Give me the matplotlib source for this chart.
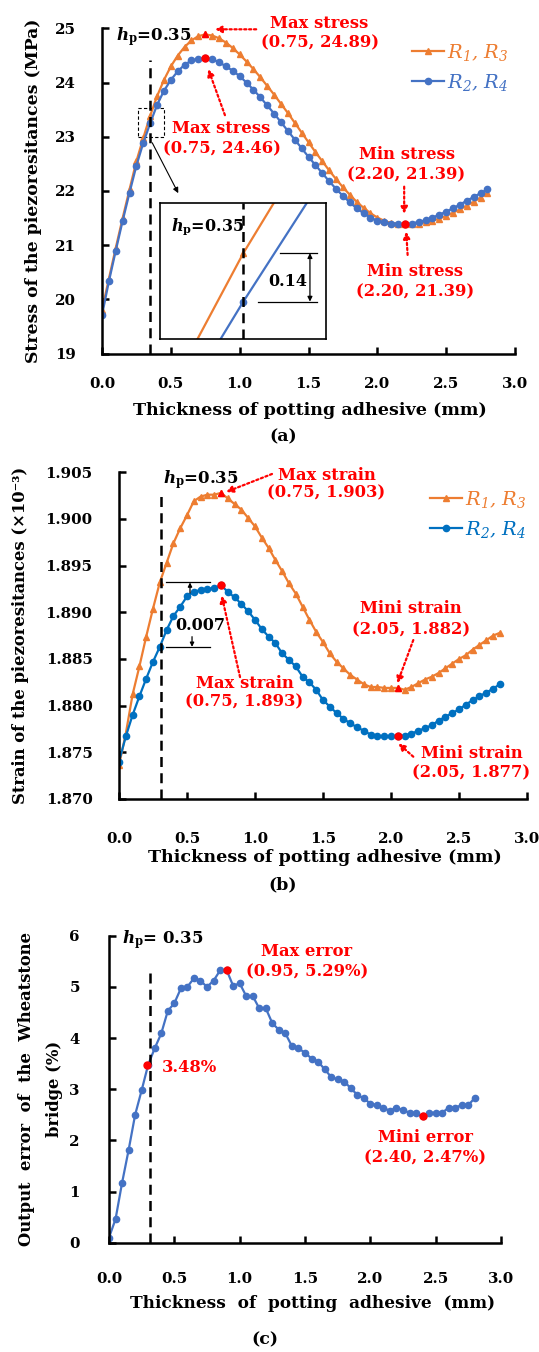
import matplotlib
matplotlib.use("Agg")
import matplotlib.pyplot as plt
from matplotlib.patches import Rectangle

plt.rcParams.update({
    "font.family": ["DejaVu Serif", "DejaVu Sans"],
    "font.weight": "bold",
    "mathtext.fontset": "custom",
    "mathtext.rm": "DejaVu Serif:bold",
    "mathtext.it": "DejaVu Serif:italic:bold",
    "mathtext.bf": "DejaVu Serif:bold",
    "mathtext.sf": "DejaVu Serif:italic:normal",
})

# ---------------- data ----------------
thickness = [0.00, 0.05, 0.10, 0.15, 0.20, 0.25, 0.30, 0.35, 0.40, 0.45,
             0.50, 0.55, 0.60, 0.65, 0.70, 0.75, 0.80, 0.85, 0.90, 0.95,
             1.00, 1.05, 1.10, 1.15, 1.20, 1.25, 1.30, 1.35, 1.40, 1.45,
             1.50, 1.55, 1.60, 1.65, 1.70, 1.75, 1.80, 1.85, 1.90, 1.95,
             2.00, 2.05, 2.10, 2.15, 2.20, 2.25, 2.30, 2.35, 2.40, 2.45,
             2.50, 2.55, 2.60, 2.65, 2.70, 2.75, 2.80]

stress_r13 = [19.80, 20.38, 20.95, 21.50, 22.03, 22.55, 22.98, 23.39, 23.75, 24.05,
              24.30, 24.50, 24.66, 24.78, 24.86, 24.89, 24.87, 24.82, 24.74, 24.64,
              24.52, 24.39, 24.25, 24.10, 23.94, 23.78, 23.61, 23.44, 23.26, 23.08,
              22.90, 22.72, 22.55, 22.38, 22.22, 22.07, 21.93, 21.80, 21.69, 21.59,
              21.51, 21.45, 21.41, 21.40, 21.39, 21.39, 21.40, 21.42, 21.45, 21.49,
              21.54, 21.60, 21.66, 21.73, 21.80, 21.88, 21.97]

stress_r24 = [19.71, 20.33, 20.90, 21.45, 21.97, 22.47, 22.89, 23.25, 23.59, 23.85,
              24.05, 24.21, 24.33, 24.41, 24.44, 24.46, 24.43, 24.38, 24.30, 24.22,
              24.12, 24.00, 23.87, 23.73, 23.58, 23.43, 23.27, 23.11, 22.95, 22.79,
              22.63, 22.48, 22.33, 22.18, 22.04, 21.91, 21.79, 21.68, 21.59, 21.51,
              21.45, 21.42, 21.40, 21.39, 21.39, 21.40, 21.43, 21.46, 21.51, 21.56,
              21.62, 21.68, 21.75, 21.82, 21.89, 21.96, 22.03]

strain_r13 = [1.8736, 1.8770, 1.8812, 1.8842, 1.8874, 1.8904, 1.8932, 1.8953, 1.8974, 1.8990,
              1.9004, 1.9019, 1.9024, 1.9026, 1.9026, 1.9028, 1.9022, 1.9016, 1.9010, 1.9001,
              1.8992, 1.8980, 1.8969, 1.8956, 1.8944, 1.8931, 1.8920, 1.8906, 1.8892, 1.8879,
              1.8868, 1.8856, 1.8847, 1.8840, 1.8833, 1.8828, 1.8823, 1.8820, 1.8820, 1.8819,
              1.8819, 1.8819, 1.8817, 1.8820, 1.8824, 1.8828, 1.8831, 1.8835, 1.8840, 1.8845,
              1.8850, 1.8854, 1.8860, 1.8865, 1.8870, 1.8875, 1.8878]

strain_r24 = [1.8740, 1.8767, 1.8790, 1.8810, 1.8829, 1.8847, 1.8863, 1.8881, 1.8896, 1.8906,
              1.8917, 1.8922, 1.8924, 1.8925, 1.8926, 1.8929, 1.8922, 1.8916, 1.8909, 1.8901,
              1.8892, 1.8882, 1.8874, 1.8867, 1.8856, 1.8849, 1.8842, 1.8831, 1.8825, 1.8817,
              1.8806, 1.8799, 1.8792, 1.8786, 1.8781, 1.8777, 1.8773, 1.8769, 1.8767, 1.8767,
              1.8767, 1.8767, 1.8768, 1.8770, 1.8773, 1.8776, 1.8779, 1.8784, 1.8788, 1.8792,
              1.8796, 1.8801, 1.8806, 1.8810, 1.8814, 1.8818, 1.8823]

bridge_error = [0.10, 0.46, 1.17, 1.81, 2.50, 2.98, 3.48, 3.80, 4.09, 4.53,
                4.68, 4.97, 5.00, 5.17, 5.12, 5.00, 5.12, 5.32, 5.33, 5.02,
                5.07, 4.82, 4.82, 4.58, 4.58, 4.29, 4.16, 4.09, 3.84, 3.80,
                3.71, 3.60, 3.54, 3.39, 3.24, 3.19, 3.15, 3.02, 2.89, 2.82,
                2.72, 2.69, 2.63, 2.58, 2.64, 2.59, 2.54, 2.53, 2.47, 2.54,
                2.54, 2.54, 2.64, 2.64, 2.69, 2.69, 2.83]

x_ticks = [0.0, 0.5, 1.0, 1.5, 2.0, 2.5, 3.0]
x_ticklabels = ["0.0", "0.5", "1.0", "1.5", "2.0", "2.5", "3.0"]
stress_ticks = [19, 20, 21, 22, 23, 24, 25]
strain_ticks = [1.870, 1.875, 1.880, 1.885, 1.890, 1.895, 1.900, 1.905]
strain_ticklabels = ["1.870", "1.875", "1.880", "1.885", "1.890", "1.895", "1.900", "1.905"]
error_ticks = [0, 1, 2, 3, 4, 5, 6]

legend_label_13 = r"$\mathsf{R_1}$, $\mathsf{R_3}$"
legend_label_24 = r"$\mathsf{R_2}$, $\mathsf{R_4}$"

# highlighted points
stress_max13 = (0.75, 24.89)
stress_max24 = (0.75, 24.46)
stress_min = (2.20, 21.39)
strain_max13 = (0.75, 1.9028)
strain_max24 = (0.75, 1.8929)
strain_min13 = (2.05, 1.8819)
strain_min24 = (2.05, 1.8767)
err_hp = (0.29, 3.48)
err_max = (0.90, 5.33)
err_min = (2.40, 2.47)

ORANGE = "#ED7D31"
BLUE_A = "#4472C4"
BLUE_B = "#0070C0"
RED = "#FF0000"

W, H = 539, 1352
fig = plt.figure(figsize=(W / 100, H / 100), dpi=100)


def px_axes(x0, y0, x1, y1):
    return fig.add_axes([x0 / W, 1 - y1 / H, (x1 - x0) / W, (y1 - y0) / H])


def style(ax, xpad, ypad):
    for s in ("top", "right"):
        ax.spines[s].set_visible(False)
    for s in ("left", "bottom"):
        ax.spines[s].set_linewidth(1.8)
    ax.tick_params(direction="in", length=5, width=1.8, labelsize=10.8)
    ax.tick_params(axis="x", pad=xpad)
    ax.tick_params(axis="y", pad=ypad)
    ax.set_xlim(0, 3.0)
    ax.set_xticks(x_ticks)
    ax.set_xticklabels(x_ticklabels)
    for lab in ax.get_xticklabels() + ax.get_yticklabels():
        lab.set_fontweight("bold")


def red_arrow(ax, tail, tip):
    ax.annotate("", xy=tip, xytext=tail,
                arrowprops=dict(arrowstyle="-|>", color=RED, lw=1.6,
                                linestyle=(0, (1, 1.2)), mutation_scale=10,
                                shrinkA=0, shrinkB=0), annotation_clip=False)


def red_text(ax, x, y, s, size=11.8):
    ax.text(x, y, s, color=RED, fontsize=size, fontweight="bold",
            ha="center", va="center", clip_on=False)


LEG_PROP = dict(family=["DejaVu Serif", "DejaVu Sans"], style="italic",
                weight="normal", size=14)


def make_legend(ax, handles, colors, right_px, top_px):
    leg = ax.legend(handles, [legend_label_13, legend_label_24], loc="upper right",
                    bbox_to_anchor=(right_px / W, 1 - top_px / H),
                    bbox_transform=fig.transFigure, frameon=False, prop=LEG_PROP,
                    numpoints=1, handlelength=1.65, handletextpad=0.15,
                    labelspacing=0.45, borderpad=0, borderaxespad=0)
    for t, c in zip(leg.get_texts(), colors):
        t.set_color(c)
    return leg


# ================= (a) =================
axa = px_axes(102, 28.5, 515, 353.5)
style(axa, 17, 19)
axa.set_ylim(19, 25)
axa.set_yticks(stress_ticks)
la1, = axa.plot(thickness, stress_r13, color=ORANGE, lw=1.6, marker="^", ms=4.5)
la2, = axa.plot(thickness, stress_r24, color=BLUE_A, lw=1.6, marker="o", ms=4.5)
axa.axvline(0.35, ymin=0, ymax=0.903, color="k", lw=1.8, ls=(0, (4, 2.5)))
axa.plot(*stress_max13, marker="^", color=RED, ms=5)
axa.plot(*stress_max24, marker="o", color=RED, ms=5)
axa.plot(*stress_min, marker="o", color=RED, ms=5)
axa.text(0.105, 24.85, r"$h_{\rm p}$=0.35", fontsize=12, ha="left", va="center")
red_text(axa, 1.58, 25.10, "Max stress")
red_text(axa, 1.58, 24.73, "(0.75, 24.89)")
red_arrow(axa, (1.12, 24.985), (0.82, 24.985))
red_text(axa, 0.868, 23.16, "Max stress")
red_text(axa, 0.868, 22.77, "(0.75, 24.46)")
red_arrow(axa, (0.893, 23.40), (0.772, 24.25))
red_text(axa, 2.212, 22.665, "Min stress")
red_text(axa, 2.212, 22.30, "(2.20, 21.39)")
red_arrow(axa, (2.195, 22.08), (2.195, 21.58))
red_text(axa, 2.274, 20.51, "Min stress")
red_text(axa, 2.274, 20.14, "(2.20, 21.39)")
red_arrow(axa, (2.22, 20.82), (2.21, 21.25))
axa.add_patch(Rectangle((0.26, 23.0), 0.19, 0.53, fill=False, ls=(0, (3, 2)),
                        lw=0.8, ec="k"))
axa.annotate("", xy=(0.554, 21.96), xytext=(0.365, 22.89),
             arrowprops=dict(arrowstyle="-|>", color="k", lw=0.8,
                             mutation_scale=8, shrinkA=0, shrinkB=0))
axa.set_xlabel("Thickness of potting adhesive (mm)", fontsize=12.6, fontweight="bold")
axa.xaxis.set_label_coords(0.504, -0.15)
axa.set_ylabel("Stress of the piezoresitances (MPa)", fontsize=12.4, fontweight="bold")
axa.yaxis.set_label_coords(-0.145, 0.5)
make_legend(axa, [la1, la2], [ORANGE, BLUE_A], 509, 42)

# inset
axi = px_axes(160, 203, 326, 339)
axi.plot(thickness, stress_r13, color=ORANGE, lw=1.6, marker="^", ms=4.5)
axi.plot(thickness, stress_r24, color=BLUE_A, lw=1.6, marker="o", ms=4.5)
axi.set_xlim(0.295, 0.4046)
axi.set_ylim(23.142, 23.535)
axi.axvline(0.35, color="k", lw=1.8, ls=(0, (4, 2.5)))
axi.set_xticks([])
axi.set_yticks([])
for s in axi.spines.values():
    s.set_linewidth(1.2)
axi.plot([0.3742, 0.3984], [stress_r13[7], stress_r13[7]], color="k", lw=0.9)
axi.plot([0.3597, 0.3984], [stress_r24[7], stress_r24[7]], color="k", lw=0.9)
axi.annotate("", xy=(0.394, stress_r13[7]), xytext=(0.394, stress_r24[7]),
             arrowprops=dict(arrowstyle="<|-|>", color="k", lw=0.9,
                             mutation_scale=7, shrinkA=0, shrinkB=0))
axi.text(0.3795, 23.308, "0.14", fontsize=11.5, ha="center", va="center")
axi.text(0.3267, 23.466, r"$h_{\rm p}$=0.35", fontsize=11.5, ha="center", va="center")

fig.text(283 / W, 1 - 437 / H, "(a)", ha="center", va="center", fontsize=12.5, fontweight="bold")

# ================= (b) =================
axb = px_axes(119, 472.3, 527, 799)
style(axb, 24, 19)
axb.set_ylim(1.870, 1.905)
axb.set_yticks(strain_ticks)
axb.set_yticklabels(strain_ticklabels)
for lab in axb.get_yticklabels():
    lab.set_fontweight("bold")
lb1, = axb.plot(thickness, strain_r13, color=ORANGE, lw=1.6, marker="^", ms=4.5)
lb2, = axb.plot(thickness, strain_r24, color=BLUE_B, lw=1.6, marker="o", ms=4.5)
axb.axvline(0.31, ymin=0, ymax=0.937, color="k", lw=1.8, ls=(0, (4, 2.5)))
axb.plot(*strain_max13, marker="^", color=RED, ms=5)
axb.plot(*strain_max24, marker="o", color=RED, ms=5)
axb.plot(*strain_min13, marker="^", color=RED, ms=5)
axb.plot(*strain_min24, marker="o", color=RED, ms=5)
axb.text(0.324, 1.9042, r"$h_{\rm p}$=0.35", fontsize=12, ha="left", va="center")
red_text(axb, 1.526, 1.90471, "Max strain")
red_text(axb, 1.526, 1.90278, "(0.75, 1.903)")
red_arrow(axb, (1.125, 1.90482), (0.787, 1.90289))
red_text(axb, 0.923, 1.88233, "Max strain")
red_text(axb, 0.923, 1.88037, "(0.75, 1.893)")
red_arrow(axb, (0.890, 1.88306), (0.755, 1.89180))
red_text(axb, 2.149, 1.89043, "Mini strain")
red_text(axb, 2.149, 1.88810, "(2.05, 1.882)")
red_arrow(axb, (2.164, 1.88703), (2.046, 1.88239))
red_text(axb, 2.592, 1.87489, "Mini strain")
red_text(axb, 2.592, 1.87275, "(2.05, 1.877)")
red_arrow(axb, (2.164, 1.87453), (2.054, 1.87596))
axb.plot([0.346, 0.669], [strain_r13[6], strain_r13[6]], color="k", lw=0.9)
axb.plot([0.346, 0.669], [strain_r24[6], strain_r24[6]], color="k", lw=0.9)
axb.annotate("", xy=(0.522, strain_r13[6]), xytext=(0.522, 1.89207),
             arrowprops=dict(arrowstyle="-|>", color="k", lw=0.9, mutation_scale=6,
                             shrinkA=0, shrinkB=0))
axb.annotate("", xy=(0.537, strain_r24[6]), xytext=(0.537, 1.88739),
             arrowprops=dict(arrowstyle="-|>", color="k", lw=0.9, mutation_scale=6,
                             shrinkA=0, shrinkB=0))
axb.text(0.599, 1.88864, "0.007", fontsize=11.5, ha="center", va="center")
axb.set_xlabel("Thickness of potting adhesive (mm)", fontsize=12.6, fontweight="bold")
axb.xaxis.set_label_coords(0.505, -0.153)
axb.set_ylabel("Strain of the piezoresitances (\u00d710\u207b\u00b3)", fontsize=11.8,
               fontweight="bold")
axb.yaxis.set_label_coords(-0.22, 0.5)
make_legend(axb, [lb1, lb2], [ORANGE, BLUE_B], 527, 489)
fig.text(283 / W, 1 - 885 / H, "(b)", ha="center", va="center", fontsize=12.5, fontweight="bold")

# ================= (c) =================
axc = px_axes(109, 935.7, 501, 1242.7)
style(axc, 21, 21)
axc.set_ylim(0, 6)
axc.set_yticks(error_ticks)
axc.plot(thickness, bridge_error, color=BLUE_A, lw=1.6, marker="o", ms=4.5)
axc.axvline(0.31, ymin=0, ymax=0.894, color="k", lw=1.8, ls=(0, (4, 2.5)))
axc.plot(*err_hp, marker="o", color=RED, ms=5)
axc.plot(*err_max, marker="o", color=RED, ms=5)
axc.plot(*err_min, marker="o", color=RED, ms=5)
axc.text(0.0995, 5.92, r"$h_{\rm p}$= 0.35", fontsize=12, ha="left", va="center")
red_text(axc, 0.612, 3.415, "3.48%")
red_text(axc, 1.515, 5.69, "Max error")
red_text(axc, 1.515, 5.30, "(0.95, 5.29%)")
red_text(axc, 2.422, 2.05, "Mini error")
red_text(axc, 2.422, 1.65, "(2.40, 2.47%)")
axc.set_xlabel("Thickness  of  potting  adhesive  (mm)", fontsize=12.2, fontweight="bold")
axc.xaxis.set_label_coords(0.52, -0.17)
axc.set_ylabel("Output  error  of  the  Wheatstone\nbridge (%)", fontsize=11.8,
               fontweight="bold", linespacing=1.85)
axc.yaxis.set_label_coords(-0.117, 0.5)
fig.text(265 / W, 1 - 1340 / H, "(c)", ha="center", va="center", fontsize=12.5, fontweight="bold")

fig.savefig("out.png", dpi=100)
